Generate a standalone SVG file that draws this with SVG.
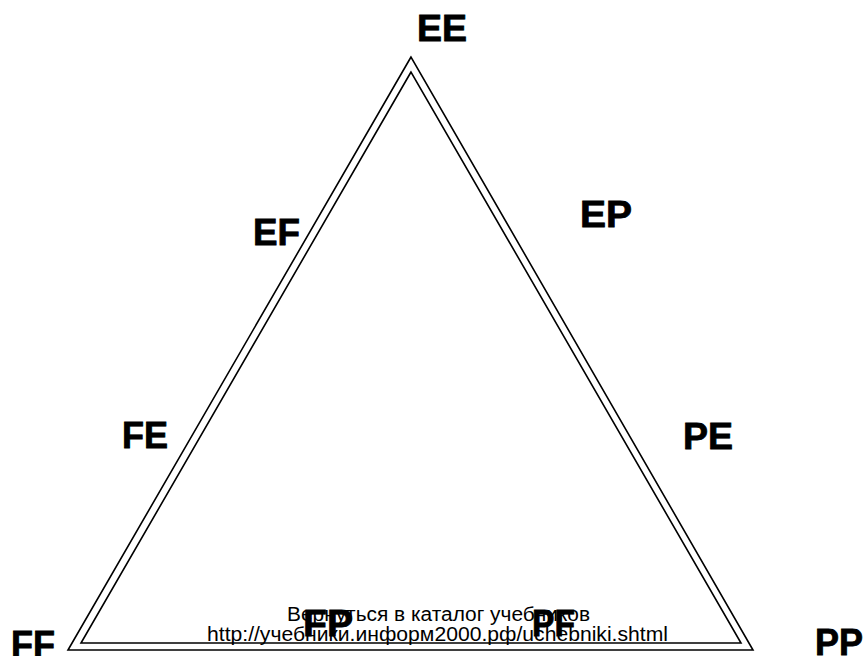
<svg xmlns="http://www.w3.org/2000/svg" width="868" height="656" viewBox="0 0 868 656">
<style>
.lbl{font-family:"Liberation Sans",Arial,sans-serif;font-weight:bold;font-size:36px;fill:#000;stroke:#000;stroke-width:0.8;}
.tri{fill:none;stroke:#000;stroke-width:1.6;stroke-linejoin:miter;}
.cap{font-family:"Liberation Sans",Arial,sans-serif;font-size:20px;fill:#000;}
</style>
<rect width="868" height="656" fill="#fff"/>
<g id="connectors">
<polygon class="tri" points="411,57 68,650 753,650"/>
<polygon class="tri" points="411,72 81,643 741,643"/>
</g>
<g id="caption">
<text class="cap" x="287" y="621" textLength="303" lengthAdjust="spacingAndGlyphs">Вернуться в каталог учебников</text>
<text class="cap" x="207" y="641" textLength="461" lengthAdjust="spacingAndGlyphs">http://учебники.информ2000.рф/uchebniki.shtml</text>
</g>
<g id="EE"><text class="lbl" x="417" y="41" textLength="50" lengthAdjust="spacingAndGlyphs">EE</text></g>
<g id="EF"><text class="lbl" x="253" y="245" textLength="47" lengthAdjust="spacingAndGlyphs">EF</text></g>
<g id="EP"><text class="lbl" x="580" y="227" textLength="52" lengthAdjust="spacingAndGlyphs">EP</text></g>
<g id="FE"><text class="lbl" x="122" y="448" textLength="46" lengthAdjust="spacingAndGlyphs">FE</text></g>
<g id="PE"><text class="lbl" x="683" y="449" textLength="50" lengthAdjust="spacingAndGlyphs">PE</text></g>
<g id="FF"><text class="lbl" x="11" y="657" textLength="44" lengthAdjust="spacingAndGlyphs">FF</text></g>
<g id="PP"><text class="lbl" x="815" y="655" textLength="48" lengthAdjust="spacingAndGlyphs">PP</text></g>
<g id="FP"><text class="lbl" x="303" y="636" textLength="50" lengthAdjust="spacingAndGlyphs">FP</text></g>
<g id="PF"><text class="lbl" x="532" y="636" textLength="43" lengthAdjust="spacingAndGlyphs">PF</text></g>
</svg>
